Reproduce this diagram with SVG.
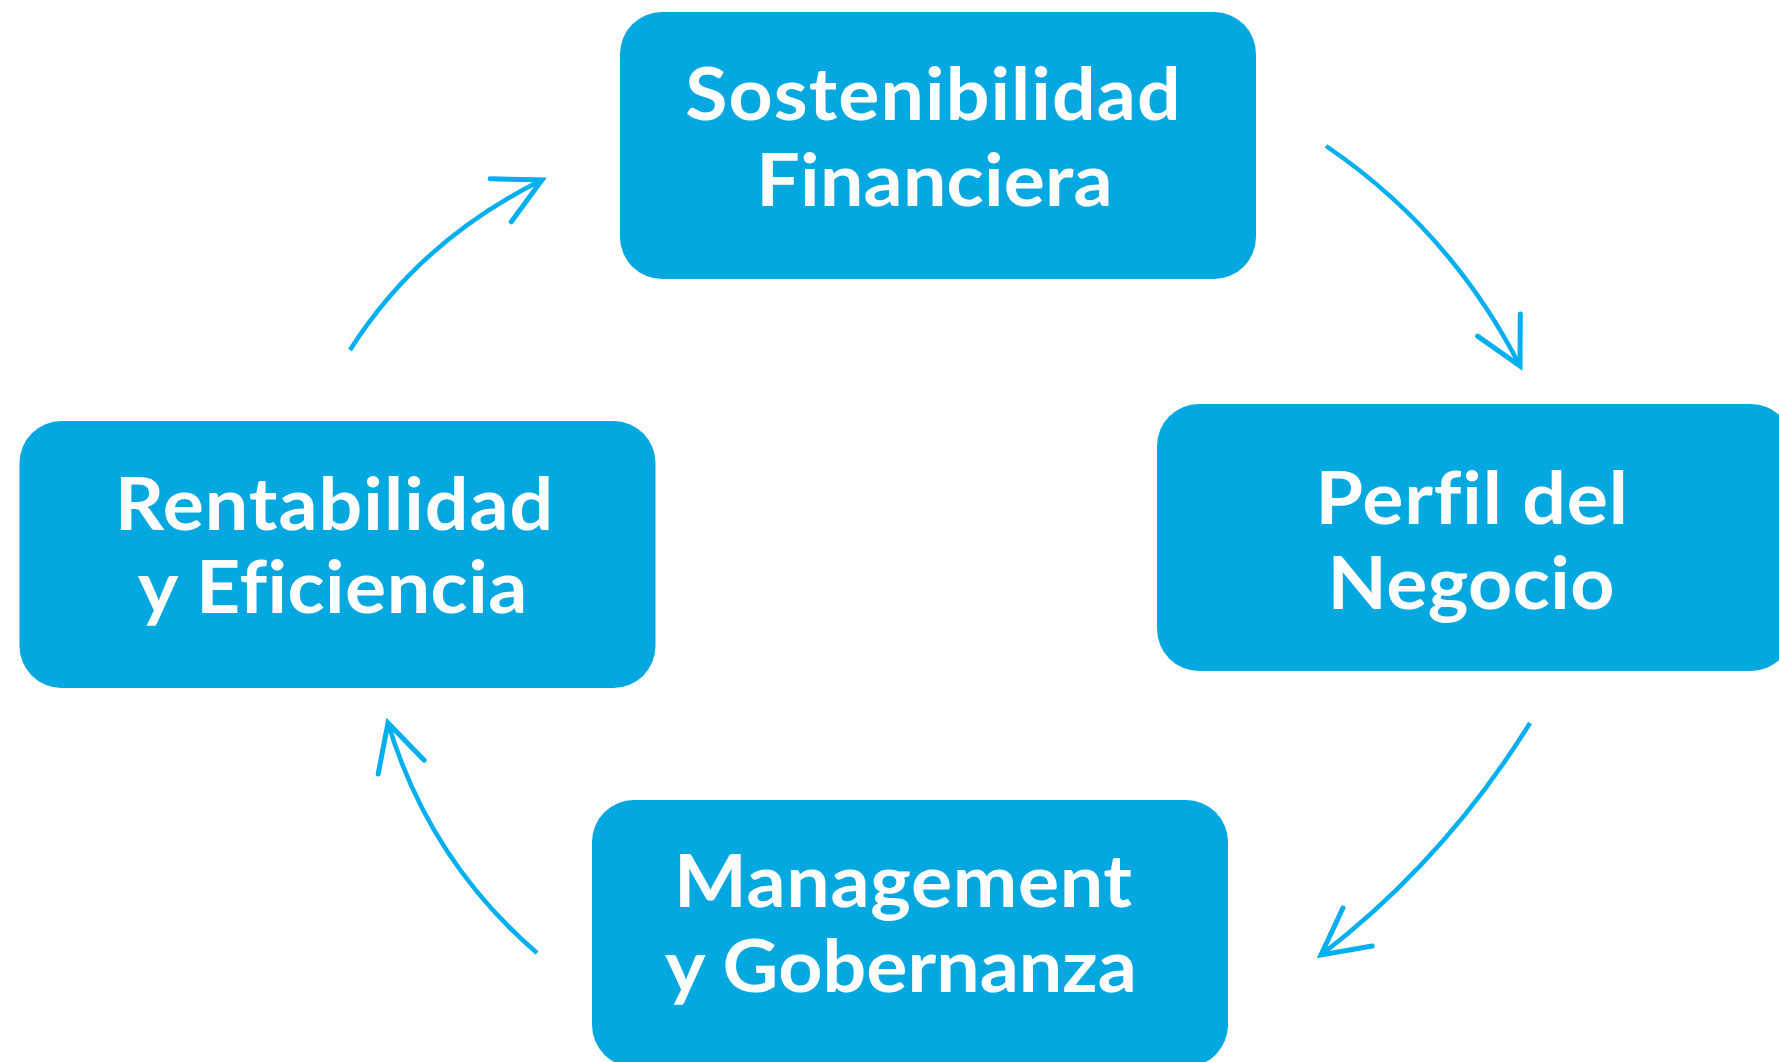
<svg xmlns="http://www.w3.org/2000/svg" width="1779" height="1062" viewBox="0 0 1779 1062">
<style>
.box{fill:#03A8E0;}
.lbl{font-family:Lato,"Open Sans","Liberation Sans",sans-serif;font-weight:700;font-size:72px;fill:#FFFFFF;text-anchor:middle;font-variant-ligatures:none;font-feature-settings:"liga" 0;}
.conn{fill:none;stroke:#00AFEF;stroke-width:4.5;stroke-linecap:butt;}
.head{fill:none;stroke:#00AFEF;stroke-width:5;stroke-linecap:round;stroke-linejoin:miter;}
</style>
<defs>
<marker id="arrow" markerUnits="userSpaceOnUse" viewBox="-60 -40 70 80" refX="0" refY="0" markerWidth="70" markerHeight="80" orient="auto" overflow="visible">
<path class="head" d="M-46,-24 L0,0 L-46,24"/>
</marker>
</defs>
<rect width="1779" height="1062" fill="#FFFFFF"/>
<g id="connectors">
<path class="conn" d="M350,350 Q420,240 542,180" marker-end="url(#arrow)"/>
<path class="conn" d="M1326,146 Q1450,230 1520,366" marker-end="url(#arrow)"/>
<path class="conn" d="M1530,723 Q1445,860 1321,955" marker-end="url(#arrow)"/>
<path class="conn" d="M537,953 Q429,860 388,723" marker-end="url(#arrow)"/>
</g>
<g id="node-sostenibilidad">
<rect class="box" x="620" y="12" width="636" height="267" rx="42" ry="42"/>
<g transform="translate(933,120) scale(1.07,1)"><text class="lbl" x="0" y="0" textLength="463" lengthAdjust="spacing">Sostenibilidad</text></g>
<g transform="translate(934.5,206) scale(1.07,1)"><text class="lbl" x="0" y="0" textLength="333" lengthAdjust="spacing">Financiera</text></g>
</g>
<g id="node-perfil">
<rect class="box" x="1157" y="404" width="636" height="267" rx="42" ry="42"/>
<g transform="translate(1471.7,524) scale(1.07,1)"><text class="lbl" x="0" y="0" textLength="292" lengthAdjust="spacing">Perfil del</text></g>
<g transform="translate(1471,609) scale(1.07,1)"><text class="lbl" x="0" y="0" textLength="268" lengthAdjust="spacing">Negocio</text></g>
</g>
<g id="node-management">
<rect class="box" x="592" y="800" width="636" height="267" rx="42" ry="42"/>
<g transform="translate(903,907) scale(1.07,1)"><text class="lbl" x="0" y="0" textLength="428" lengthAdjust="spacing">Management</text></g>
<g transform="translate(901,992) scale(1.07,1)"><text class="lbl" x="0" y="0" textLength="441" lengthAdjust="spacing">y Gobernanza</text></g>
</g>
<g id="node-rentabilidad">
<rect class="box" x="19.5" y="421" width="636" height="267" rx="42" ry="42"/>
<g transform="translate(334,530) scale(1.07,1)"><text class="lbl" x="0" y="0" textLength="410" lengthAdjust="spacing">Rentabilidad</text></g>
<g transform="translate(332.5,613) scale(1.07,1)"><text class="lbl" x="0" y="0" textLength="364" lengthAdjust="spacing">y Eficiencia</text></g>
</g>
</svg>
